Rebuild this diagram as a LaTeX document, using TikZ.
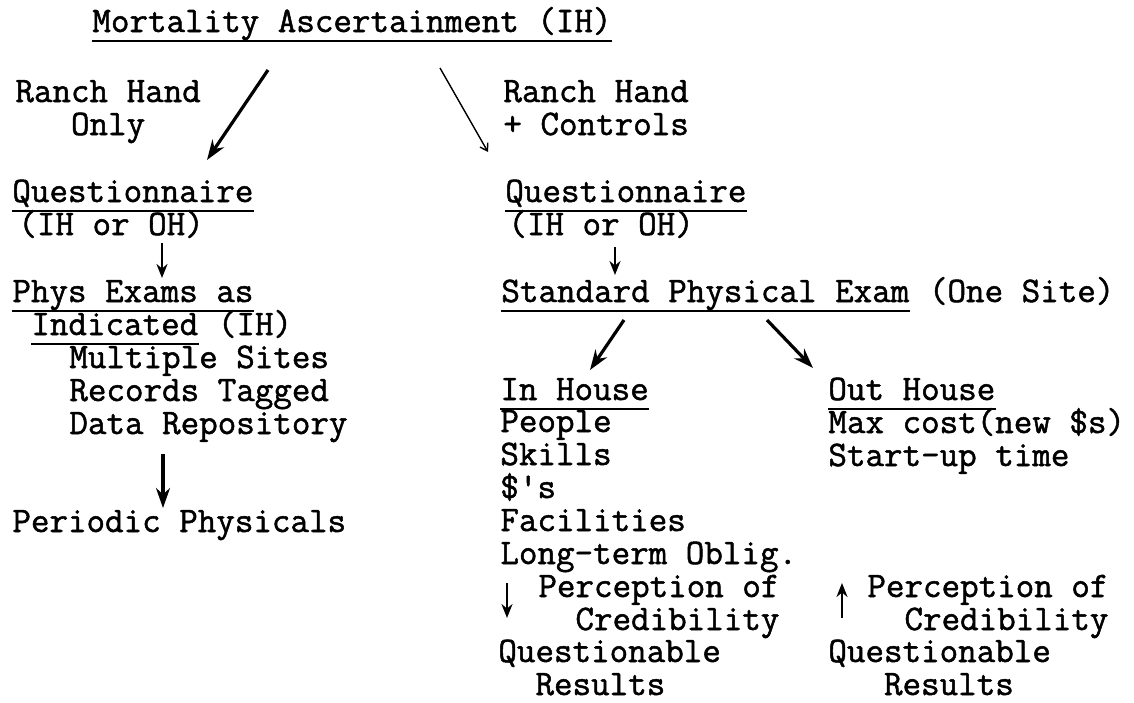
\documentclass[tikz,border=0pt]{standalone}
\usepackage{fontspec}
\usepackage{tikz}
\usetikzlibrary{arrows.meta}
\usetikzlibrary{positioning}

\newfontfamily\typew{Latin Modern Mono}[FakeBold=1.4]
\newcommand{\tab}[1]{\hspace*{#1\fontcharwd\font`M}}

\tikzset{
  txt/.style={font=\fontsize{18}{16.5}\selectfont\typew, inner sep=0pt, anchor=base west, align=left},
  uline/.style={line width=1.1pt},
  bigarr/.style={line width=1.6pt, -{Stealth[length=10pt,width=7pt]}},
  thinarr/.style={line width=0.7pt, -{Straight Barb[length=3.5pt,width=4.5pt]}},
  smallarr/.style={line width=1.3pt, -{Stealth[length=7pt,width=5.5pt]}}
}

\begin{document}
\begin{tikzpicture}[x=0.5pt,y=-0.5pt]
\useasboundingbox (0,0) rectangle (1134,702);
% top (multi-line nodes sit on their last line)
\node[txt] (title) at (92,32) {Mortality Ascertainment (IH)};
\node[txt] (rhL) at (15,135) {Ranch Hand\\\tab{3}Only};
\node[txt] (rhR) at (503,135) {Ranch Hand\\+ Controls};
% left branch
\node[txt] (qL) at (12,202) {Questionnaire};
\node[txt] (qLs) at (18,235) {(IH or OH)};
\node[txt] (physL) at (12,302) {Phys Exams as};
\node[txt] (indL) at (31,335) {Indicated};
\node[txt, base right=9.45pt of indL] (indLih) {(IH)};
\node[txt] (sitesL) at (69,434) {Multiple Sites\\Records Tagged\\Data Repository};
\node[txt] (perL) at (12,532) {Periodic Physicals};
% right branch
\node[txt] (qR) at (505,202) {Questionnaire};
\node[txt] (qRs) at (508,235) {(IH or OH)};
\node[txt] (std) at (501,302) {Standard Physical Exam};
\node[txt, base right=9.45pt of std] (site) {(One Site)};
% in house
\node[txt] (inh) at (500,400) {In House};
\node[txt] (inlist) at (500,564) {People\\Skills\\\$'s\\Facilities\\Long-term Oblig.};
\node[txt] (inperc) at (538,630) {Perception of\\\tab{2}Credibility};
\node[txt] (inq) at (498,695) {Questionable\\\tab{2}Results};
% out house
\node[txt] (outh) at (828,400) {Out House};
\node[txt] (outlist) at (828,466) {Max cost(new \$s)\\Start–up time};
\node[txt] (outperc) at (867,630) {Perception of\\\tab{2}Credibility};
\node[txt] (outq) at (828,695) {Questionable\\\tab{3}Results};

% underlines
\foreach \n in {title,qL,qR,physL,indL,std,inh,outh}
  \draw[uline] ([yshift=-4.5pt]\n.base west) -- ([yshift=-4.5pt]\n.base east);

% arrow ends
\coordinate (onlyS) at (268,70);
\coordinate (onlyE) at (207,160);
\coordinate (ctrlS) at (440,68);
\coordinate (ctrlE) at (488,152);
\coordinate (qLS) at (162,243);
\coordinate (qLE) at (162,278);
\coordinate (qRS) at (615,247);
\coordinate (qRE) at (615,275);
\coordinate (repS) at (163,454);
\coordinate (repE) at (163,508);
\coordinate (inS) at (624,320);
\coordinate (inE) at (590,370);
\coordinate (outS) at (767,320);
\coordinate (outE) at (813,368);
\coordinate (downS) at (507,583);
\coordinate (downE) at (507,618);
\coordinate (upS) at (842,618);
\coordinate (upE) at (842,583);

\draw[bigarr] (onlyS) -- (onlyE);
\draw[thinarr] (ctrlS) -- (ctrlE);
\draw[smallarr] (qLS) -- (qLE);
\draw[smallarr] (qRS) -- (qRE);
\draw[bigarr] (repS) -- (repE);
\draw[bigarr] (inS) -- (inE);
\draw[bigarr] (outS) -- (outE);
\draw[smallarr] (downS) -- (downE);
\draw[smallarr] (upS) -- (upE);
\end{tikzpicture}
\end{document}
